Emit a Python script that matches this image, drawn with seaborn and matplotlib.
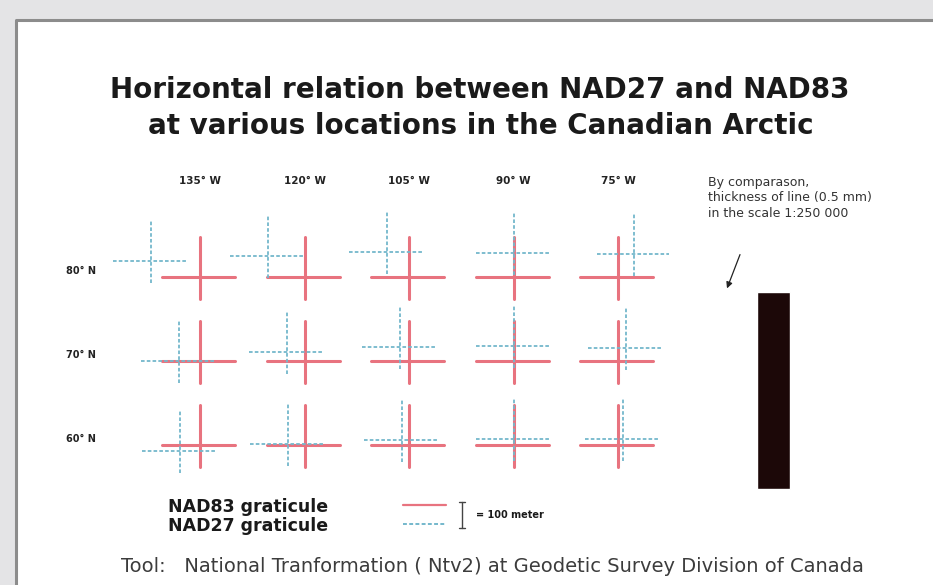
import pandas as pd
import matplotlib
matplotlib.use("Agg")
import matplotlib.pyplot as plt
import seaborn as sns
from matplotlib.patches import Rectangle

# grid of locations
longitudes = ["135° W", "120° W", "105° W", "90° W", "75° W"]
latitudes = ["80° N", "70° N", "60° N"]

# shift of NAD27 graticule relative to NAD83, metres (east, north), one row per latitude
shift_east = [
    [-188, -142, -85, 0, 62],
    [-81, -69, -35, 0, 31],
    [-77, -65, -27, 0, 19],
]
shift_north = [
    [62, 81, 96, 92, 88],
    [0, 35, 54, 58, 50],
    [-23, 4, 19, 23, 23],
]

scale_bar_m = 100          # legend scale bar
line_thickness_mm = 0.5    # comparison line
map_scale = 250000         # 1:250 000

# layout (pixels of a 933x585 canvas)
W_PX, H_PX = 933, 585
PX_PER_M = 0.26
COL0_PX, ROW0_PX = 200, 277
COL_STEP_M, ROW_STEP_M = 402, 323
ARM_L, ARM_R, ARM_UP, ARM_DN = 145, 135, 155, 85


def mx(px):
    return px / PX_PER_M


def my(py):
    return (H_PX - py) / PX_PER_M


sns.set_theme(style="white")
plt.rcParams["font.family"] = ["DejaVu Sans"]

fig = plt.figure(figsize=(W_PX / 100, H_PX / 100), dpi=100)
fig.patch.set_facecolor("#e4e4e6")
ax = fig.add_axes([0, 0, 1, 1])
ax.set_xlim(0, mx(W_PX))
ax.set_ylim(0, my(0))
ax.axis("off")

# white panel with grey frame
ax.add_patch(Rectangle((mx(16), 0), mx(W_PX), my(20), facecolor="white",
                       edgecolor="none", zorder=0))
ax.plot([mx(16), mx(16), mx(W_PX)], [0, my(20), my(20)], color="#8c8c8c",
        lw=2.2, solid_capstyle="butt", zorder=1)

# build cross segments
rows = []
seg = 0
for j, lat in enumerate(latitudes):
    for i, lon in enumerate(longitudes):
        cx = mx(COL0_PX) + i * COL_STEP_M
        cy = my(ROW0_PX) - j * ROW_STEP_M
        for datum, ox, oy in [("NAD83", 0, 0),
                              ("NAD27", shift_east[j][i], shift_north[j][i])]:
            x, y = cx + ox, cy + oy
            rows += [dict(seg=seg, datum=datum, x=x - ARM_L, y=y),
                     dict(seg=seg, datum=datum, x=x + ARM_R, y=y)]
            seg += 1
            rows += [dict(seg=seg, datum=datum, x=x, y=y - ARM_DN),
                     dict(seg=seg, datum=datum, x=x, y=y + ARM_UP)]
            seg += 1
df = pd.DataFrame(rows)

red, blue = "#e8737f", "#74b8cc"
sns.lineplot(data=df, x="x", y="y", units="seg", estimator=None, sort=False,
             hue="datum", hue_order=["NAD83", "NAD27"],
             palette={"NAD83": red, "NAD27": blue},
             size="datum", sizes={"NAD83": 2.2, "NAD27": 1.3},
             style="datum", dashes={"NAD83": "", "NAD27": (2, 1.2)},
             legend=False, ax=ax, zorder=3)

# axis labels of the grid
for i, lon in enumerate(longitudes):
    ax.text(mx(COL0_PX) + i * COL_STEP_M, my(181), lon, ha="center",
            va="center", fontsize=7.5, fontweight="bold", color="#222")
for j, lat in enumerate(latitudes):
    ax.text(mx(66), my(ROW0_PX) - j * ROW_STEP_M + 22, lat, ha="left",
            va="center", fontsize=7, fontweight="bold", color="#222")

# title
fig.text(480 / W_PX, 1 - 90 / H_PX, "Horizontal relation between NAD27 and NAD83",
         ha="center", va="center", fontsize=20, fontweight="bold", color="#1a1a1a")
fig.text(481 / W_PX, 1 - 126 / H_PX, "at various locations in the Canadian Arctic",
         ha="center", va="center", fontsize=20, fontweight="bold", color="#1a1a1a")

# comparison bar: 0.5 mm at 1:250 000
bar_w = line_thickness_mm / 1000 * map_scale
ax.bar(mx(773.5), my(292) - my(489), width=bar_w, bottom=my(489),
       color="#1c0808", zorder=3)
ax.text(mx(708), my(198), "By comparason,\nthickness of line (0.5 mm)\nin the scale 1:250 000",
        ha="left", va="center", fontsize=9, color="#333", linespacing=1.25)
ax.annotate("", xy=(mx(726), my(291)), xytext=(mx(741), my(252)),
            arrowprops=dict(arrowstyle="-|>", color="#222", lw=0.9, mutation_scale=9))

# legend
ax.text(mx(168), my(507), "NAD83 graticule", ha="left", va="center",
        fontsize=12.5, fontweight="bold", color="#1a1a1a")
ax.text(mx(168), my(526), "NAD27 graticule", ha="left", va="center",
        fontsize=12.5, fontweight="bold", color="#1a1a1a")
ax.plot([mx(403), mx(446)], [my(505), my(505)], color=red, lw=1.6)
ax.plot([mx(403), mx(446)], [my(524), my(524)], color=blue, lw=1.4, dashes=(2, 1.2))

# scale bar 100 m
sy = my(515)
ax.plot([mx(462), mx(462)], [sy - scale_bar_m / 2, sy + scale_bar_m / 2], color="#444", lw=1)
for yy in (sy - scale_bar_m / 2, sy + scale_bar_m / 2):
    ax.plot([mx(459), mx(465)], [yy, yy], color="#444", lw=1)
ax.text(mx(476), sy, "= 100 meter", ha="left", va="center", fontsize=7,
        fontweight="bold", color="#1a1a1a")

# source line
ax.text(mx(492), my(566),
        "Tool:   National Tranformation ( Ntv2) at Geodetic Survey Division of Canada",
        ha="center", va="center", fontsize=14, color="#3c3c3c")

fig.savefig("out.png", dpi=100)
